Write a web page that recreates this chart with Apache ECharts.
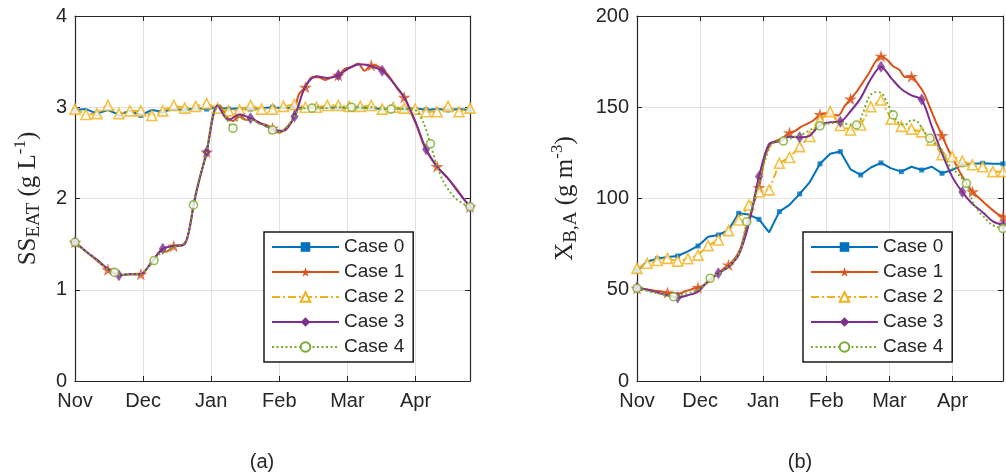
<!DOCTYPE html>
<html>
<head>
<meta charset="utf-8">
<script src="https://cdn.jsdelivr.net/npm/echarts@6.0.0/dist/echarts.min.js"></script>
<style>
  html, body { margin: 0; padding: 0; background: #fff; }
  #container { width: 1006px; height: 475px; }
</style>
</head>
<body>
<div id="container"></div>
<script type="text/javascript">
    // day 0 = 1 Nov, one tick every 30 days
    var months = ['Nov', 'Dec', 'Jan', 'Feb', 'Mar', 'Apr'];
    var caseNames = ['Case 0', 'Case 1', 'Case 2', 'Case 3', 'Case 4'];

    var dayGridA = [0, 4.83, 9.67, 14.5, 19.33, 24.17, 29, 33.83, 38.67, 43.5,
        48.33, 53.17, 58, 62.83, 67.67, 72.5, 77.33, 82.17, 87, 91.83,
        96.67, 101.5, 106.33, 111.17, 116, 120.83, 125.67, 130.5, 135.33, 140.17,
        145, 149.83, 154.67, 159.5, 164.33, 169.17, 174];
    var dayGridB = [0, 2.9, 5.8, 8.7, 11.6, 14.5, 17.4, 20.3, 23.2, 26.1,
        29, 31.9, 34.8, 37.7, 40.6, 43.5, 46.4, 49.3, 52.2, 55.1,
        58, 60.9, 63.8, 66.7, 69.6, 72.5, 75.4, 78.3, 81.2, 84.1,
        87, 89.9, 92.8, 95.7, 98.6, 101.5, 104.4, 107.3, 110.2, 113.1,
        116, 118.9, 121.8, 124.7, 127.6, 130.5, 133.4, 136.3, 139.2, 142.1,
        145, 147.9, 150.8, 153.7, 156.6, 159.5, 162.4, 165.3, 168.2, 171.1, 174];

    // (a) SS_EAT, g/L
    var ssCase0 = [2.97, 2.98, 2.93, 2.97, 2.92, 2.96, 2.91, 2.97, 2.95, 2.98,
        2.97, 2.99, 2.98, 3.0, 2.98, 2.99, 2.98, 2.99, 3.0, 2.99,
        3.0, 2.99, 3.0, 2.99, 3.0, 2.99, 3.0, 2.99, 2.98, 2.99,
        2.98, 2.99, 2.97, 2.98, 2.97, 2.98, 2.97];
    var ssCase1 = [1.52, 1.46, 1.40, 1.34, 1.28, 1.22, 1.18, 1.16, 1.17, 1.17,
        1.17, 1.24, 1.32, 1.42, 1.42, 1.48, 1.48, 1.55, 1.92, 2.24,
        2.51, 2.92, 3.02, 2.90, 2.85, 2.92, 2.86, 2.87, 2.82, 2.81,
        2.77, 2.72, 2.77, 2.86, 3.14, 3.22, 3.33, 3.33, 3.30, 3.33,
        3.35, 3.42, 3.44, 3.48, 3.40, 3.46, 3.45, 3.40, 3.31, 3.20,
        3.11, 2.95, 2.78, 2.58, 2.45, 2.35, 2.27, 2.19, 2.10, 2.00, 1.91];
    var ssCase2 = [2.98, 2.92, 2.93, 3.02, 2.93, 2.96, 2.96, 2.91, 2.96, 3.02,
        2.99, 3.01, 3.04, 2.99, 2.96, 2.97, 3.02, 2.98, 2.98, 3.01,
        3.03, 3.0, 3.0, 3.02, 3.02, 3.01, 3.01, 3.02, 2.98, 3.0,
        2.99, 2.98, 2.95, 2.95, 3.01, 2.95, 2.99];
    var ssCase3 = [1.52, 1.42, 1.33, 1.23, 1.16, 1.17, 1.17, 1.31, 1.45, 1.48,
        1.50, 2.05, 2.51, 3.02, 2.86, 2.92, 2.88, 2.82, 2.76, 2.74,
        2.90, 3.23, 3.34, 3.32, 3.35, 3.43, 3.47, 3.45, 3.40, 3.27,
        3.11, 2.85, 2.54, 2.35, 2.22, 2.06, 1.91];
    var ssCase4 = [1.52, 1.46, 1.40, 1.34, 1.28, 1.22, 1.19, 1.16, 1.17, 1.17,
        1.17, 1.24, 1.32, 1.40, 1.42, 1.47, 1.48, 1.55, 1.93, 2.24,
        2.51, 2.92, 3.02, 2.88, 2.77, 2.90, 2.86, 2.86, 2.82, 2.80,
        2.75, 2.72, 2.77, 2.86, 2.97, 2.99, 2.99, 3.00, 2.99, 3.00,
        3.00, 2.99, 3.00, 3.00, 2.99, 3.00, 2.99, 2.98, 2.98, 2.99,
        2.98, 2.98, 2.95, 2.82, 2.60, 2.35, 2.18, 2.07, 1.99, 1.94, 1.91];

    // (b) X_B,A, g/m3
    var xbaCase0 = [60.5, 65.5, 67, 68, 68.5, 71, 74, 79, 80, 82.7,
        91.9, 91.2, 88.6, 81.5, 92.8, 96.5, 102.5, 109, 119, 124.5,
        125.7, 116, 112.9, 117, 119.5, 116.5, 114.7, 117.4, 115.6, 117.4,
        113.8, 115.6, 118.5, 119, 119.3, 119, 119];
    var xbaCase1 = [50.8, 50.5, 50, 49.5, 49, 48.4, 48.2, 48, 49.3, 50.3,
        51.2, 52.5, 55, 58, 61, 63.6, 67, 73, 85, 96,
        106, 123, 130.2, 131.8, 133.5, 136, 137.2, 139.5, 141, 143,
        146, 146.7, 146, 145.5, 150.5, 154.5, 158.5, 163.5, 168.5, 174.5,
        178, 176, 172.5, 170.5, 166.5, 166.8, 163, 158, 150, 142,
        134.5, 127, 120.5, 114, 108.5, 103.7, 100.5, 97.4, 94.5, 91.8, 90];
    var xbaCase2 = [61.7, 64.5, 66, 67.2, 65.7, 67, 69, 74.2, 77.3, 82.4,
        88.2, 96.4, 103.7, 104.7, 119.3, 122.5, 128.4, 134, 143, 147.6,
        140, 137.5, 140.3, 150.3, 154, 143.5, 139.5, 138, 136.5, 132,
        124, 123, 120.5, 118.5, 117.4, 114.7, 114.7];
    var xbaCase3 = [51.3, 50, 48.5, 47, 45.7, 47, 49, 55, 59, 62.6,
        69, 86, 112, 130, 131.3, 133.9, 133.5, 134.5, 140.3, 141.8,
        142.1, 147.8, 155, 165.5, 172.2, 166, 160, 156.5, 154.2, 139.5,
        124.8, 112, 103.5, 97, 92.5, 87.5, 85.5];
    var xbaCase4 = [50.8, 50, 49, 48.3, 47.5, 46.8, 46.2, 46.8, 47.7, 48.8,
        49.9, 52.5, 56.3, 58, 60, 63, 66.5, 72, 87.3, 96.5,
        108.5, 121, 129.5, 131, 131.5, 132.8, 134, 135, 136.8, 138.5,
        139.8, 140.8, 141.2, 141.5, 141, 140.5, 140.3, 146.5, 155.5, 158.2,
        158, 152.5, 145.8, 141, 140.5, 143, 142, 137, 133, 129.5,
        126.5, 119, 115.6, 112, 108.3, 98.5, 93, 89.5, 86, 84.5, 83.5];

    var SANS = '"Liberation Sans", Arial, Helvetica, sans-serif';
    var SERIF = '"Liberation Serif", "Times New Roman", serif';
    var INK = '#262626';
    var STAR = 'path://M50 0L61.2 34.5L97.6 34.5L68.2 55.9L79.4 90.5L50 69.1L20.6 90.5L31.8 55.9L2.4 34.5L38.8 34.5Z';

    var caseStyle = [
        { color: '#0072BD', grid: 'A', every: 2, symbol: 'rect', legendSymbol: 'rect', size: 5, dash: 'solid', smooth: false, hollow: false },
        { color: '#D95319', grid: 'B', every: 5, symbol: STAR, legendSymbol: STAR, size: 13, dash: 'solid', smooth: 0.3, hollow: false },
        { color: '#F0B21C', grid: 'A', every: 1, symbol: 'triangle', legendSymbol: 'emptyTriangle', size: 10, dash: [8, 3, 2, 3], smooth: false, hollow: true },
        { color: '#7E2F8E', grid: 'A', every: 4, symbol: 'diamond', legendSymbol: 'diamond', size: [8, 12], dash: 'solid', smooth: 0.3, hollow: false },
        { color: '#77AC30', grid: 'B', every: 6, symbol: 'circle', legendSymbol: 'emptyCircle', size: 8, dash: [2, 2.5], smooth: 0.3, hollow: true }
    ];

    function buildSeries(axisIdx, valueLists) {
        var out = [];
        valueLists.forEach(function (vals, k) {
            var st = caseStyle[k];
            var days = st.grid === 'A' ? dayGridA : dayGridB;
            var pts = vals.map(function (v, i) { return [days[i], v]; });
            out.push({
                name: caseNames[k], type: 'line', xAxisIndex: axisIdx, yAxisIndex: axisIdx,
                data: pts, showSymbol: false, symbol: st.legendSymbol, symbolSize: 10,
                smooth: st.smooth, z: 3 + k * 2,
                lineStyle: { color: st.color, width: 2, type: st.dash },
                itemStyle: { color: st.color },
                emphasis: { disabled: true }
            });
            out.push({
                name: caseNames[k], type: 'scatter', xAxisIndex: axisIdx, yAxisIndex: axisIdx,
                data: pts.filter(function (p, i) { return i % st.every === 0; }),
                symbol: st.symbol, symbolSize: st.size, symbolKeepAspect: true, z: 4 + k * 2,
                itemStyle: st.hollow
                    ? { color: '#fff', borderColor: st.color, borderWidth: 1.6 }
                    : { color: st.color },
                emphasis: { disabled: true }
            });
        });
        return out;
    }

    function xAxisFor(gridIndex, top) {
        return {
            type: 'value', gridIndex: gridIndex, min: 0, max: 174, interval: 30,
            position: top ? 'top' : 'bottom',
            axisLine: { show: true, onZero: false, lineStyle: { color: INK, width: 1.2 } },
            axisTick: { show: true, inside: true, length: 5, lineStyle: { color: INK } },
            splitLine: { show: !top, lineStyle: { color: '#e2e2e2', width: 1 } },
            axisLabel: {
                show: !top, margin: 10, color: INK, fontSize: 20, fontFamily: SANS,
                formatter: function (v) { return v % 30 === 0 ? months[v / 30] : ''; }
            }
        };
    }

    function yAxisFor(gridIndex, right, max, step, name, gap) {
        return {
            type: 'value', gridIndex: gridIndex, min: 0, max: max, interval: step,
            position: right ? 'right' : 'left',
            name: right ? '' : name, nameLocation: 'middle', nameRotate: 90, nameGap: gap,
            nameTextStyle: {
                rich: {
                    m: { fontFamily: SERIF, fontSize: 25, color: INK, lineHeight: 32 },
                    s: { fontFamily: SERIF, fontSize: 19, color: INK, lineHeight: 19, verticalAlign: 'bottom' },
                    p: { fontFamily: SERIF, fontSize: 17, color: INK, lineHeight: 18, verticalAlign: 'top' }
                }
            },
            axisLine: { show: true, onZero: false, lineStyle: { color: INK, width: 1.2 } },
            axisTick: { show: true, inside: true, length: 5, lineStyle: { color: INK } },
            splitLine: { show: !right, lineStyle: { color: '#e2e2e2', width: 1 } },
            axisLabel: { show: !right, margin: 8, color: INK, fontSize: 20, fontFamily: SANS }
        };
    }

    function legendAt(left) {
        return {
            orient: 'vertical', left: left, top: 232, data: caseNames,
            itemWidth: 67, itemHeight: 12, itemGap: 5, padding: [5, 9, 5, 7],
            backgroundColor: '#fff', borderColor: '#1a1a1a', borderWidth: 1.5,
            lineStyle: { width: 2 },
            textStyle: { fontSize: 19, color: INK, fontFamily: SANS, lineHeight: 20 },
            selectedMode: false, z: 20
        };
    }

    var dom = document.getElementById('container');
    var myChart = echarts.init(dom, null, { renderer: 'canvas' });

    var option = {
        animation: false,
        backgroundColor: '#fff',
        grid: [
            { left: 75, top: 16, width: 395, height: 365 },
            { left: 637, top: 16, width: 371, height: 365 }
        ],
        xAxis: [xAxisFor(0, false), xAxisFor(0, true), xAxisFor(1, false), xAxisFor(1, true)],
        yAxis: [
            yAxisFor(0, false, 4, 1, '{m|SS}{s|EAT}{m| (g L}{p|-1}{m|)}', 31),
            yAxisFor(0, true, 4, 1, '', 0),
            yAxisFor(1, false, 200, 50, '{m|X}{s|B,A}{m| (g m}{p|-3}{m|)}', 56),
            yAxisFor(1, true, 200, 50, '', 0)
        ],
        legend: [legendAt(264), legendAt(803)],
        graphic: [
            { type: 'text', x: 262, y: 462, style: { text: '(a)', fontSize: 20, fontFamily: SANS, fill: INK, align: 'center', verticalAlign: 'middle' } },
            { type: 'text', x: 800, y: 462, style: { text: '(b)', fontSize: 20, fontFamily: SANS, fill: INK, align: 'center', verticalAlign: 'middle' } }
        ],
        series: buildSeries(0, [ssCase0, ssCase1, ssCase2, ssCase3, ssCase4])
            .concat(buildSeries(2, [xbaCase0, xbaCase1, xbaCase2, xbaCase3, xbaCase4]))
    };

    myChart.setOption(option);
</script>
</body>
</html>
